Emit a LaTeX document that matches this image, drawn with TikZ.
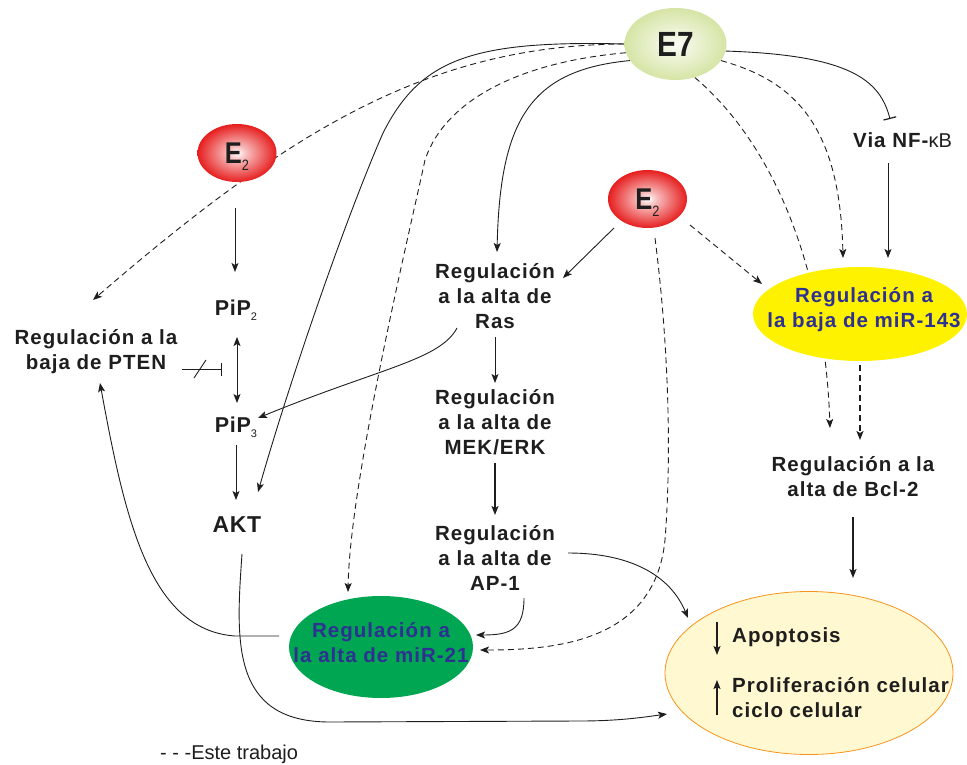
\documentclass[tikz,border=0pt]{standalone}
\usepackage{fontspec}
\setmainfont{Liberation Sans}
\newfontfamily\labf[LetterSpace=5.0]{Liberation Sans}
\newfontfamily\labbf[LetterSpace=3.0]{Liberation Sans}
\newfontfamily\narrf[FakeStretch=0.85]{Liberation Sans}
\usetikzlibrary{arrows.meta,shapes.geometric}
\definecolor{txt}{HTML}{1E1E1E}
\definecolor{blu}{HTML}{2E3192}
\definecolor{grn}{HTML}{00A651}
\definecolor{ylw}{HTML}{FFF200}
\definecolor{cream}{HTML}{FFF8D0}
\definecolor{orng}{HTML}{F7941D}
\definecolor{redb}{HTML}{E61E1E}
\definecolor{lgrn}{HTML}{C8DC88}
\pgfdeclareradialshading{redball}{\pgfpoint{0bp}{0bp}}{color(0bp)=(white); color(6bp)=(redb!30!white); color(25bp)=(redb); color(50bp)=(redb)}
\pgfdeclareradialshading{greenball}{\pgfpoint{0bp}{0bp}}{color(0bp)=(lgrn!8!white); color(34bp)=(lgrn); color(50bp)=(lgrn)}
\pgfdeclarelayer{bg}
\pgfsetlayers{bg,main}
\begin{document}
\begin{tikzpicture}[x=1pt,y=-1pt,
  lbl/.style={font=\labf\bfseries\fontsize{20.5}{25}\selectfont,text=txt,align=center,inner sep=0pt},
  blbl/.style={font=\labbf\bfseries\fontsize{21.5}{25}\selectfont,text=txt,inner sep=0pt},
  redball/.style={ellipse,inner sep=0pt,minimum width=79pt,minimum height=58pt,shading=redball,
    font=\narrf\bfseries\fontsize{30}{30}\selectfont,text=txt},
  conn/.style={draw=txt,line width=0.9pt,-{Stealth[length=9pt,width=7pt,inset=2pt]}},
  dconn/.style={conn,dash pattern=on 6pt off 4pt},
  thk/.style={line width=1.5pt},
  inh/.style={draw=txt,line width=0.9pt,-{Bar[width=13pt,line width=1.2pt]}}
]
\useasboundingbox (0,0) rectangle (967,765);

% ---- nodes ----
\node[ellipse,inner sep=0pt,minimum width=102pt,minimum height=72pt,shading=greenball,
  font=\narrf\bfseries\fontsize{35}{35}\selectfont,text=txt] (E7) at (675.5,44) {E7};
\node[redball] (e2a) at (237,153) {E\raisebox{-7pt}[0pt][0pt]{\mdseries\fontsize{15}{15}\selectfont 2}};
\node[redball] (e2b) at (647.5,199) {E\raisebox{-7pt}[0pt][0pt]{\mdseries\fontsize{15}{15}\selectfont 2}};

\node[anchor=base west,inner sep=0pt,text=txt] (nfkb) at (853,148)
  {\labf\bfseries\fontsize{20.5}{25}\selectfont Via NF-\fontsize{20}{25}\selectfont\mdseries\rmfamily κB};

\node[ellipse,inner sep=0pt,minimum width=214pt,minimum height=94pt,fill=ylw] (m143) at (860,314) {};
\node[lbl,text=blu] (m143t) at (864,310) {Regulación a\\la baja de miR-143};

\node[ellipse,inner sep=0pt,minimum width=184pt,minimum height=102pt,fill=grn] (m21) at (381,647) {};
\node[lbl,text=blu] (m21t) at (381,643) {Regulación a\\la alta de miR-21};

\node[ellipse,inner sep=0pt,minimum width=288pt,minimum height=163pt,fill=cream,draw=orng,line width=0.8pt] (out) at (809,673) {};
\node[lbl,anchor=base west] (apo) at (732,642) {Apoptosis};
\node[lbl,anchor=base west] (pro) at (732,692) {Proliferación celular};
\node[lbl,anchor=base west] (cic) at (732,717) {ciclo celular};
\draw[conn,thk] ([shift={(-15,-20)}]apo.base west) -- ([shift={(-15,13)}]apo.base west);
\draw[conn,thk] ([shift={(-15,23)}]pro.base west) -- ([shift={(-15,-12)}]pro.base west);

\node[lbl] (pten) at (96,352) {Regulación a la\\baja de PTEN};
\node[blbl,anchor=base] (pip2) at (236,315) {PiP\raisebox{-5pt}[0pt][0pt]{\mdseries\fontsize{11}{11}\selectfont 2}};
\node[blbl,anchor=base] (pip3) at (236,432) {PiP\raisebox{-5pt}[0pt][0pt]{\mdseries\fontsize{11}{11}\selectfont 3}};
\node[blbl,anchor=base,font=\labbf\bfseries\fontsize{23}{25}\selectfont] (akt) at (237,532) {AKT};

\node[lbl] (ras) at (495,296) {Regulación\\a la alta de\\Ras};
\node[lbl] (mek) at (495,422) {Regulación\\a la alta de\\MEK/ERK};
\node[lbl] (ap1) at (495,558) {Regulación\\a la alta de\\AP-1};
\node[lbl] (bcl) at (853,477) {Regulación a la\\alta de Bcl-2};

\node[anchor=base west,inner sep=0pt,text=txt,font=\fontsize{20}{20}\selectfont] (leg) at (160,759) {- - -Este trabajo};

% ---- connectors ----
\begin{pgfonlayer}{bg}
\draw[dconn] (E7.west) .. controls (430,45) and (290,130) .. ([shift={(-3,-52)}]pten.center);
\draw[conn] (E7.west) .. controls (470,40) and (420,60) .. (383,133)
  .. controls (345,220) and (290,380) .. ([shift={(21,-40)}]akt.base);
\draw[dconn] (E7.190) .. controls (520,62) and (445,100) .. (425,160)
  .. controls (410,230) and (350,480) .. ([shift={(-33,-55)}]m21.center);
\draw[conn] (E7.200) .. controls (530,70) and (500,120) .. ([shift={(2,-44)}]ras.center);
\draw[inh] (E7.-8) .. controls (850,55) and (880,80) .. ([shift={(37,-29)}]nfkb.base west);
\draw[conn] ([shift={(35,15)}]nfkb.base west) -- ([shift={(28,-56)}]m143.center);
\draw[dconn] (E7.-20) .. controls (790,80) and (840,120) .. ([shift={(-17,-56)}]m143.center);
\draw[dconn] (E7.-60) .. controls (780,150) and (825,280) .. ([shift={(-23,-49)}]bcl.center);
\draw[dconn,thk] ([shift={(0,51)}]m143.center) -- ([shift={(7,-37)}]bcl.center);
\draw[conn,thk] ([shift={(0,40)}]bcl.center) -- ([shift={(44,-95)}]out.center);

\draw[conn] ([shift={(-33.5,29)}]e2b.center) -- ([shift={(68,-18)}]ras.center);
\draw[dconn] ([shift={(42.5,26)}]e2b.center) -- ([shift={(-98,-30)}]m143.center);
\draw[dconn] ([shift={(7.5,39)}]e2b.center) .. controls (668,340) and (672,450) .. (665,540)
  .. controls (655,640) and (560,650) .. ([shift={(99,3)}]m21.center);

\draw[conn] ([shift={(-38,32)}]ras.center) .. controls (440,360) and (380,368) .. ([shift={(22,-14)}]pip3.base);
\draw[conn] ([shift={(0,41)}]ras.center) -- ([shift={(0,-39)}]mek.center);
\draw[conn,thk] ([shift={(0,41)}]mek.center) -- ([shift={(0,-43)}]ap1.center);
\draw[conn] ([shift={(29,40)}]ap1.center) .. controls (524,630) and (510,635) .. ([shift={(95,-12)}]m21.center);
\draw[conn] ([shift={(73,-5)}]ap1.center) .. controls (630,553) and (670,575) .. ([shift={(-121,-55)}]out.center);

\draw[conn] ([shift={(-2,55)}]e2a.center) -- ([shift={(-1,-43)}]pip2.base);
\draw[conn,{Stealth[length=9pt,width=7pt,inset=2pt]}-{Stealth[length=9pt,width=7pt,inset=2pt]}]
  ([shift={(1,22)}]pip2.base) -- ([shift={(1,-29)}]pip3.base);
\draw[inh] ([shift={(86,17)}]pten.center) -- coordinate[pos=0.45] (sl) ([shift={(-14,54)}]pip2.base);
\draw[draw=txt,line width=0.9pt] ([shift={(-6,9)}]sl) -- ([shift={(6,-9)}]sl);
\draw[conn] ([shift={(0,13)}]pip3.base) -- ([shift={(-1,-32)}]akt.base);

\draw[conn] ([shift={(-102,-11)}]m21.center) -- (235,636) .. controls (150,630) and (125,520) .. ([shift={(4,31)}]pten.center);
\draw[conn] ([shift={(5,22)}]akt.base) .. controls (236,640) and (230,722) .. (330,722) -- (580,721)
  .. controls (620,721) and (645,717) .. ([shift={(-142,41)}]out.center);
\end{pgfonlayer}
\end{tikzpicture}
\end{document}
